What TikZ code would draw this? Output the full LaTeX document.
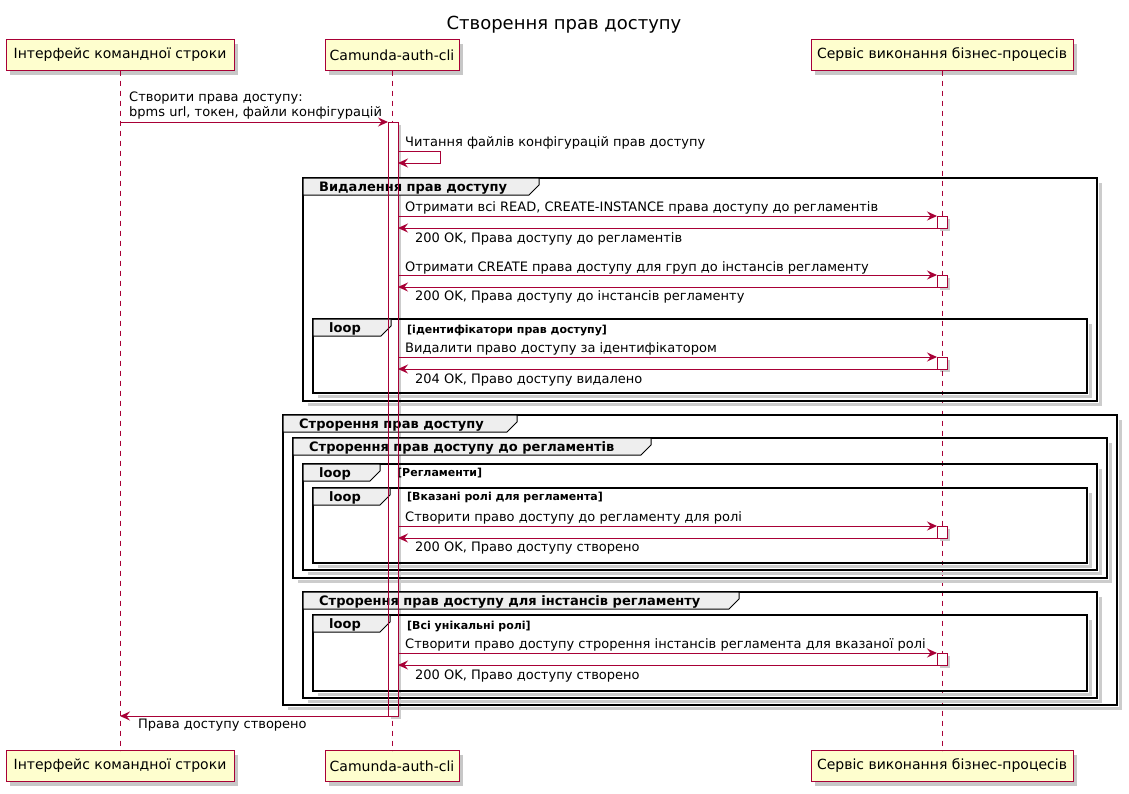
\documentclass[tikz,border=0pt]{standalone}
\usepackage{fontspec}
\setmainfont{DejaVu Sans}
\usetikzlibrary{arrows.meta,shadows}
\definecolor{pured}{HTML}{A80036}
\definecolor{pubox}{HTML}{FEFECE}
\definecolor{putab}{HTML}{EEEEEE}
\newcommand\pufs[1]{\fontsize{#1}{#1}\selectfont}
\tikzset{
  pbox/.style={draw=pured, fill=pubox, line width=1pt, minimum height=31pt, inner sep=0pt, outer sep=0pt,
    font=\pufs{14}, drop shadow={shadow xshift=4pt, shadow yshift=-4pt, fill=black, opacity=0.22}},
  lifeline/.style={draw=pured, line width=0.8pt, dash pattern=on 5pt off 5pt},
  msg/.style={draw=pured, line width=1pt, -{Stealth[length=10pt,width=9pt,inset=3.5pt]}},
  msgtxt/.style={font=\pufs{13}, inner sep=0pt, anchor=base west},
  titletxt/.style={font=\pufs{18}, inner sep=0pt, anchor=base},
  barfill/.style={fill=white, draw=none, minimum width=10pt, minimum height=594pt, inner sep=0pt, outer sep=0pt,
    drop shadow={shadow xshift=3pt, shadow yshift=-3pt, fill=black, opacity=0.2}},
  actbox/.style={draw=pured, fill=white, line width=1pt, minimum width=10pt, minimum height=12pt, inner sep=0pt, outer sep=0pt,
    drop shadow={shadow xshift=2.5pt, shadow yshift=-2.5pt, fill=black, opacity=0.2}},
  frline/.style={draw=black, line width=1.6pt},
  frshadow/.style={draw=black!20, line width=3pt},
  tabfill/.style={fill=putab, draw=black, line width=1pt},
  grplabel/.style={font=\bfseries\pufs{13}, inner sep=0pt, anchor=base west},
  condlabel/.style={font=\bfseries\pufs{11}, inner sep=0pt, anchor=base west}
}
% name, L, T, R, B, tabR, label
\newcommand\pufr[7]{%
  \draw[frshadow] (#4+3,#3+5) -- (#4+3,#5+3) -- (#2+5,#5+3);
  \draw[frline] (#2,#3) rectangle (#4,#5);
  \draw[tabfill] (#2,#3) -- (#6,#3) -- (#6,#3+7) -- (#6-10,#3+17) -- (#2,#3+17) -- cycle;
  \node[grplabel] (#1) at (#2+16,#3+13.5) {#7};}
\begin{document}
\begin{tikzpicture}[x=1pt,y=-1pt]
\useasboundingbox (0,0) rectangle (1129,793);
\node[titletxt] (title) at (564,29.5) {Створення прав доступу};
% participants
\node[pbox, minimum width=228pt] (p1t) at (120,55) {Інтерфейс командної строки};
\node[pbox, minimum width=134pt] (p2t) at (392,55) {Camunda-auth-cli};
\node[pbox, minimum width=262pt] (p3t) at (942,55) {Сервіс виконання бізнес-процесів};
\node[pbox, minimum width=228pt] (p1b) at (120,766) {Інтерфейс командної строки};
\node[pbox, minimum width=134pt] (p2b) at (392,766) {Camunda-auth-cli};
\node[pbox, minimum width=262pt] (p3b) at (942,766) {Сервіс виконання бізнес-процесів};
% lifelines
\draw[lifeline] (p1t.south) -- (p1b.north);
\draw[lifeline] (p2t.south) -- (p2b.north);
\draw[lifeline] (p3t.south) -- (p3b.north);
% activation bar fill
\node[barfill] (bar) at (393,419) {};
% frames
\pufr{g1}{303}{178}{1097}{401}{539}{Видалення прав доступу}
\pufr{l1}{313}{319}{1087}{393}{391}{loop}
\node[condlabel] (l1c) at (407,333) {[ідентифікатори прав доступу]};
\pufr{g2}{283}{415}{1117}{705}{517}{Строрення прав доступу}
\pufr{g3}{293}{438}{1107}{578}{651}{Строрення прав доступу до регламентів}
\pufr{l2}{303}{464}{1097}{570}{380}{loop}
\node[condlabel] (l2c) at (397,476) {[Регламенти]};
\pufr{l3}{313}{488}{1087}{563}{390}{loop}
\node[condlabel] (l3c) at (407,500) {[Вказані ролі для регламента]};
\pufr{g4}{303}{592}{1097}{698}{739}{Строрення прав доступу для інстансів регламенту}
\pufr{l4}{313}{615}{1087}{691}{390}{loop}
\node[condlabel] (l4c) at (407,629) {[Всі унікальні ролі]};
% activation bar outline
\draw[draw=pured, line width=1pt] (bar.north west) rectangle (bar.south east);
% message 1
\coordinate (m1a) at (120,122);
\draw[msg] (m1a) -- (bar.north west);
\node[msgtxt] (m1t1) at (129,101.5) {Створити права доступу:};
\node[msgtxt] (m1t2) at (129,116.5) {bpms url, токен, файли конфігурацій};
% self message
\coordinate (s1a) at (398,151);
\coordinate (s1b) at (440,151);
\coordinate (s1c) at (440,163);
\coordinate (s1d) at (398,163);
\draw[msg] (s1a) -- (s1b) -- (s1c) -- (s1d);
\node[msgtxt] (s1t) at (405,146.5) {Читання файлів конфігурацій прав доступу};
% calls to service
\node[actbox] (a1) at (942,222) {};
\draw[msg] (bar.east |- a1.north) -- (a1.north west);
\draw[msg] (a1.south west) -- (bar.east |- a1.south);
\node[msgtxt] (a1t) at (405,211.5) {Отримати всі READ, CREATE-INSTANCE права доступу до регламентів};
\node[msgtxt] (a1r) at (415,242.5) {200 OK, Права доступу до регламентів};
\node[actbox] (a2) at (942,281) {};
\draw[msg] (bar.east |- a2.north) -- (a2.north west);
\draw[msg] (a2.south west) -- (bar.east |- a2.south);
\node[msgtxt] (a2t) at (405,271.5) {Отримати CREATE права доступу для груп до інстансів регламенту};
\node[msgtxt] (a2r) at (415,300.5) {200 OK, Права доступу до інстансів регламенту};
\node[actbox] (a3) at (942,363) {};
\draw[msg] (bar.east |- a3.north) -- (a3.north west);
\draw[msg] (a3.south west) -- (bar.east |- a3.south);
\node[msgtxt] (a3t) at (405,352.5) {Видалити право доступу за ідентифікатором};
\node[msgtxt] (a3r) at (415,383.5) {204 OK, Право доступу видалено};
\node[actbox] (a4) at (942,532) {};
\draw[msg] (bar.east |- a4.north) -- (a4.north west);
\draw[msg] (a4.south west) -- (bar.east |- a4.south);
\node[msgtxt] (a4t) at (405,521.5) {Створити право доступу до регламенту для ролі};
\node[msgtxt] (a4r) at (415,551.5) {200 OK, Право доступу створено};
\node[actbox] (a5) at (942,659) {};
\draw[msg] (bar.east |- a5.north) -- (a5.north west);
\draw[msg] (a5.south west) -- (bar.east |- a5.south);
\node[msgtxt] (a5t) at (405,648.5) {Створити право доступу строрення інстансів регламента для вказаної ролі};
\node[msgtxt] (a5r) at (415,679.5) {200 OK, Право доступу створено};
% final return
\coordinate (m8b) at (120,716);
\draw[msg] (bar.south west) -- (m8b);
\node[msgtxt] (m8t) at (138,728.5) {Права доступу створено};
\end{tikzpicture}
\end{document}
